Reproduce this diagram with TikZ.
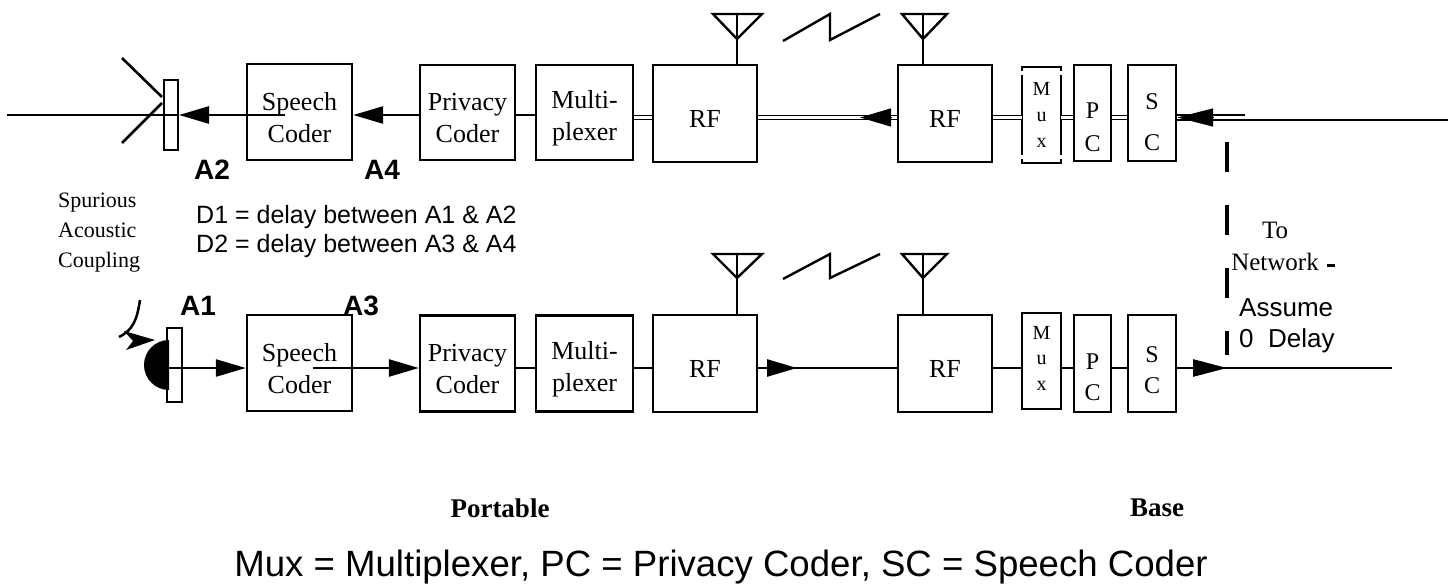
\documentclass[tikz,border=0pt]{standalone}
\usepackage{fontspec}
\setmainfont{Liberation Serif}
\setsansfont{Liberation Sans}
\usetikzlibrary{arrows.meta,calc}
\begin{document}
\begin{tikzpicture}[x=1pt,y=-1pt,
  blk/.style={draw, line width=2.4pt, inner sep=0pt},
  btxt/.style={inner sep=0pt, align=center, font=\fontsize{26}{32}\selectfont},
  ln/.style={line width=2.6pt},
  thinln/.style={line width=1.6pt},
  dbl/.style={double, double distance=2.4pt, line width=1.6pt},
  arr/.style={line width=2.6pt, -{Triangle[length=30pt,width=17pt]}},
  ant/.style={line width=2.4pt, line join=miter},
  lab/.style={font=\sffamily\bfseries\fontsize{28}{32}\selectfont},
  sans/.style={font=\sffamily\fontsize{25}{29}\selectfont},
  serif/.style={font=\fontsize{22}{30}\selectfont},
]
\useasboundingbox (0,0) rectangle (1453,586);
\fill[white] (0,0) rectangle (1453,586);

% level coordinates
\coordinate (yt) at (0,115);
\coordinate (ytd) at (0,117.5);
\coordinate (yb) at (0,368);

% ---------------- top row ----------------
\node[draw, line width=2pt, minimum width=14pt, minimum height=70pt, inner sep=0pt] (eart) at (171,115) {};
\node[blk, minimum width=105pt, minimum height=96pt] (sct) at (299.5,112) {};
\node[blk, minimum width=95pt, minimum height=95pt] (pct) at (467.5,112.5) {};
\node[blk, minimum width=97pt, minimum height=95pt] (mxt) at (584.5,112.5) {};
\node[blk, minimum width=104pt, minimum height=97pt] (rft) at (705,113.5) {};
\node[blk, minimum width=94pt, minimum height=97pt] (rfbt) at (945,113.5) {};
\node[inner sep=0pt, minimum width=39pt, minimum height=96pt] (muxt) at (1041.5,115) {};
\node[blk, minimum width=37pt, minimum height=96pt] (pcbt) at (1092.5,113) {};
\node[blk, minimum width=48pt, minimum height=96pt] (scbt) at (1152,113) {};

\node[btxt] (sctT) at ($(sct)+(0,6)$) {Speech\\Coder};
\node[btxt] (pctT) at ($(pct)+(0,5.5)$) {Privacy\\Coder};
\node[btxt] (mxtT) at ($(mxt)+(0,5.5)$) {Multi-\\plexer};
\node[btxt] (rftT) at ($(rft)+(0,5)$) {RF};
\node[btxt] (rfbtT) at ($(rfbt)+(0,5)$) {RF};
\node[btxt, font=\fontsize{20}{26}\selectfont] (muxtT) at (muxt) {M\\u\\x};
\node[btxt, font=\fontsize{24}{33}\selectfont] (pcbtT) at ($(pcbt)+(0,14)$) {P\\C};
\node[btxt, font=\fontsize{24}{41}\selectfont] (scbtT) at ($(scbt)+(0,9)$) {S\\C};

% broken border of top Mux
\draw[line width=2.2pt] ($(muxt.north west)+(0,4)$) -- (muxt.north west) -- (muxt.north east) -- ++(0,4);
\draw[line width=2.2pt] ($(muxt.north west)+(0,8)$) -- ($(muxt.south west)+(0,-8)$);
\draw[line width=2.2pt] ($(muxt.north east)+(0,8)$) -- ($(muxt.south east)+(0,-8)$);
\draw[line width=2.2pt] ($(muxt.south west)+(0,-4)$) -- (muxt.south west) -- (muxt.south east) -- ++(0,-4);

% speaker horn
\coordinate (h1) at (122,58);  \coordinate (h2) at (162,97);
\coordinate (h3) at (122,143); \coordinate (h4) at (162,103);
\draw[ln] (h1) -- (h2);
\draw[ln] (h3) -- (h4);
\coordinate (tleft) at (7,115);
\draw[ln] (tleft) -- (eart.east |- yt);
\coordinate (sctin) at (285,115);
\draw[arr] (sctin) -- (eart.east |- yt);
\draw[arr] (pct.west |- yt) -- (sct.east |- yt);
\draw[ln] (mxt.west |- yt) -- (pct.east |- yt);
\draw[dbl] (rft.west |- ytd) -- (mxt.east |- ytd);
\draw[dbl] (rfbt.west |- ytd) -- (rft.east |- ytd);
\coordinate (ta1) at (891,117.5); \coordinate (ta2) at (860,117.5);
\draw[arr, line width=1.4pt, -{Triangle[length=31pt,width=18pt]}] (ta1) -- (ta2);
\draw[dbl] (muxt.west |- ytd) -- (rfbt.east |- ytd);
\draw[dbl] (pcbt.west |- ytd) -- (muxt.east |- ytd);
\draw[dbl] (scbt.west |- ytd) -- (pcbt.east |- ytd);
\coordinate (tr1) at (1448,120); \coordinate (tr2) at (1245,115);
\draw[thinln] (tr1) -- (scbt.east |- tr1);
\draw[thinln] (tr2) -- (scbt.east |- tr2);
\coordinate (ta3) at (1213,117.5);
\draw[arr, line width=1.4pt, -{Triangle[length=36pt,width=18pt]}] (ta3) -- (scbt.east |- ytd);

% antennas top
\coordinate (at1) at (737,14); \coordinate (at2) at (923,14);
\draw[ant] (rft.north -| at1) -- (at1);
\draw[ant] ($(at1)+(-24,0)$) -- ($(at1)+(25,0)$) -- ($(at1)+(0,25)$) -- cycle;
\draw[ant] (rfbt.north -| at2) -- (at2);
\draw[ant] ($(at2)+(-21,0)$) -- ($(at2)+(24,0)$) -- ($(at2)+(0,25)$) -- cycle;
\coordinate (z1) at (783,41);
\draw[ant] (z1) -- ++(47,-27) -- ++(0,26) -- ++(50,-26);

% ---------------- bottom row ----------------
\node[draw, line width=2pt, minimum width=15pt, minimum height=74pt, inner sep=0pt] (earb) at (174.5,365) {};
\node[blk, minimum width=105pt, minimum height=96pt] (scb) at (299.5,363) {};
\node[blk, minimum width=95pt, minimum height=96pt] (pcb) at (467.5,363.5) {};
\node[blk, minimum width=97pt, minimum height=96pt] (mxb) at (584.5,363.5) {};
\node[blk, minimum width=104pt, minimum height=97pt] (rfb) at (705,363.5) {};
\node[blk, minimum width=94pt, minimum height=97pt] (rfbb) at (945,363.5) {};
\node[blk, minimum width=39pt, minimum height=96pt] (muxb) at (1041.5,361) {};
\node[blk, minimum width=37pt, minimum height=97pt] (pcbb) at (1092.5,363.5) {};
\node[blk, minimum width=48pt, minimum height=97pt] (scbb) at (1152,363.5) {};

\node[btxt] (scbT) at ($(scb)+(0,6)$) {Speech\\Coder};
\node[btxt] (pcbT) at ($(pcb)+(0,5.5)$) {Privacy\\Coder};
\node[btxt] (mxbT) at ($(mxb)+(0,5.5)$) {Multi-\\plexer};
\node[btxt] (rfbT) at ($(rfb)+(0,5)$) {RF};
\node[btxt] (rfbbT) at ($(rfbb)+(0,5)$) {RF};
\node[btxt, font=\fontsize{20}{25.5}\selectfont] (muxbT) at ($(muxb)+(0,-3)$) {M\\u\\x};
\node[btxt, font=\fontsize{24}{31}\selectfont] (pcbbT) at ($(pcbb)+(0,14)$) {P\\C};
\node[btxt, font=\fontsize{24}{31}\selectfont] (scbbT) at ($(scbb)+(0,7)$) {S\\C};

% mouth and coupling arrow
\fill (169,340) arc[start angle=270, end angle=90, radius=25] -- cycle;
\draw[line width=2.5pt] (140,300) .. controls (137,320) and (133,330) .. (119,337);
\fill (124,331) -- (155,340) -- (126,350) -- (133,341) -- cycle;

\draw[arr] (earb.west |- yb) -- (scb.west |- yb);
\coordinate (scbin) at (313,368);
\draw[arr] (scbin) -- (pcb.west |- yb);
\draw[ln] (pcb.east |- yb) -- (mxb.west |- yb);
\draw[ln] (mxb.east |- yb) -- (rfb.west |- yb);
\draw[ln] (rfb.east |- yb) -- (rfbb.west |- yb);
\coordinate (ba1) at (797,368);
\draw[arr] (rfb.east |- yb) -- (ba1);
\draw[ln] (rfbb.east |- yb) -- (muxb.west |- yb);
\draw[ln] (muxb.east |- yb) -- (pcbb.west |- yb);
\draw[ln] (pcbb.east |- yb) -- (scbb.west |- yb);
\coordinate (br1) at (1392,368); \coordinate (ba2) at (1227,368);
\draw[ln] (scbb.east |- yb) -- (br1);
\draw[arr, -{Triangle[length=34pt,width=17pt]}] (scbb.east |- yb) -- (ba2);

% antennas bottom
\coordinate (ab1) at (737,254); \coordinate (ab2) at (923,254);
\draw[ant] (rfb.north -| ab1) -- (ab1);
\draw[ant] ($(ab1)+(-24,0)$) -- ($(ab1)+(25,0)$) -- ($(ab1)+(0,24)$) -- cycle;
\draw[ant] (rfbb.north -| ab2) -- (ab2);
\draw[ant] ($(ab2)+(-21,0)$) -- ($(ab2)+(24,0)$) -- ($(ab2)+(0,24)$) -- cycle;
\coordinate (z2) at (783,279);
\draw[ant] (z2) -- ++(47,-25) -- ++(0,24) -- ++(50,-24);

% network boundary
\coordinate (nw1) at (1227,142); \coordinate (nw2) at (1227,355);
\draw[line width=3.2pt, dash pattern=on 30pt off 33pt] (nw1) -- (nw2);
\coordinate (nd1) at (1327,265); \coordinate (nd2) at (1335,265);
\draw[line width=3pt] (nd1) -- (nd2);

% ---------------- texts ----------------
\node[lab] (tA2) at (212,170) {A2};
\node[lab] (tA4) at (382,170) {A4};
\node[lab] (tA1) at (198,306) {A1};
\node[lab] (tA3) at (361,306) {A3};
\node[serif, anchor=west, align=left, inner sep=0pt] (tsp) at (58,233) {Spurious\\Acoustic\\Coupling};
\node[sans, anchor=west, align=left, inner sep=0pt] (tdd) at (196,232) {D1 = delay between A1 \& A2\\D2 = delay between A3 \& A4};
\node[font=\fontsize{25}{32}\selectfont, align=center, inner sep=0pt] (tnet) at (1275,246) {To\\Network};
\node[font=\sffamily\fontsize{26}{31}\selectfont, anchor=west, align=left, inner sep=0pt] (tass) at (1239,326) {Assume\\0~~Delay};
\node[font=\bfseries\fontsize{27}{30}\selectfont] (tport) at (500,508) {Portable};
\node[font=\bfseries\fontsize{27}{30}\selectfont] (tbase) at (1157,508) {Base};
\node[font=\sffamily\fontsize{36.6}{40}\selectfont] (tcap) at (721,567) {Mux = Multiplexer, PC = Privacy Coder, SC = Speech Coder};
\end{tikzpicture}
\end{document}
